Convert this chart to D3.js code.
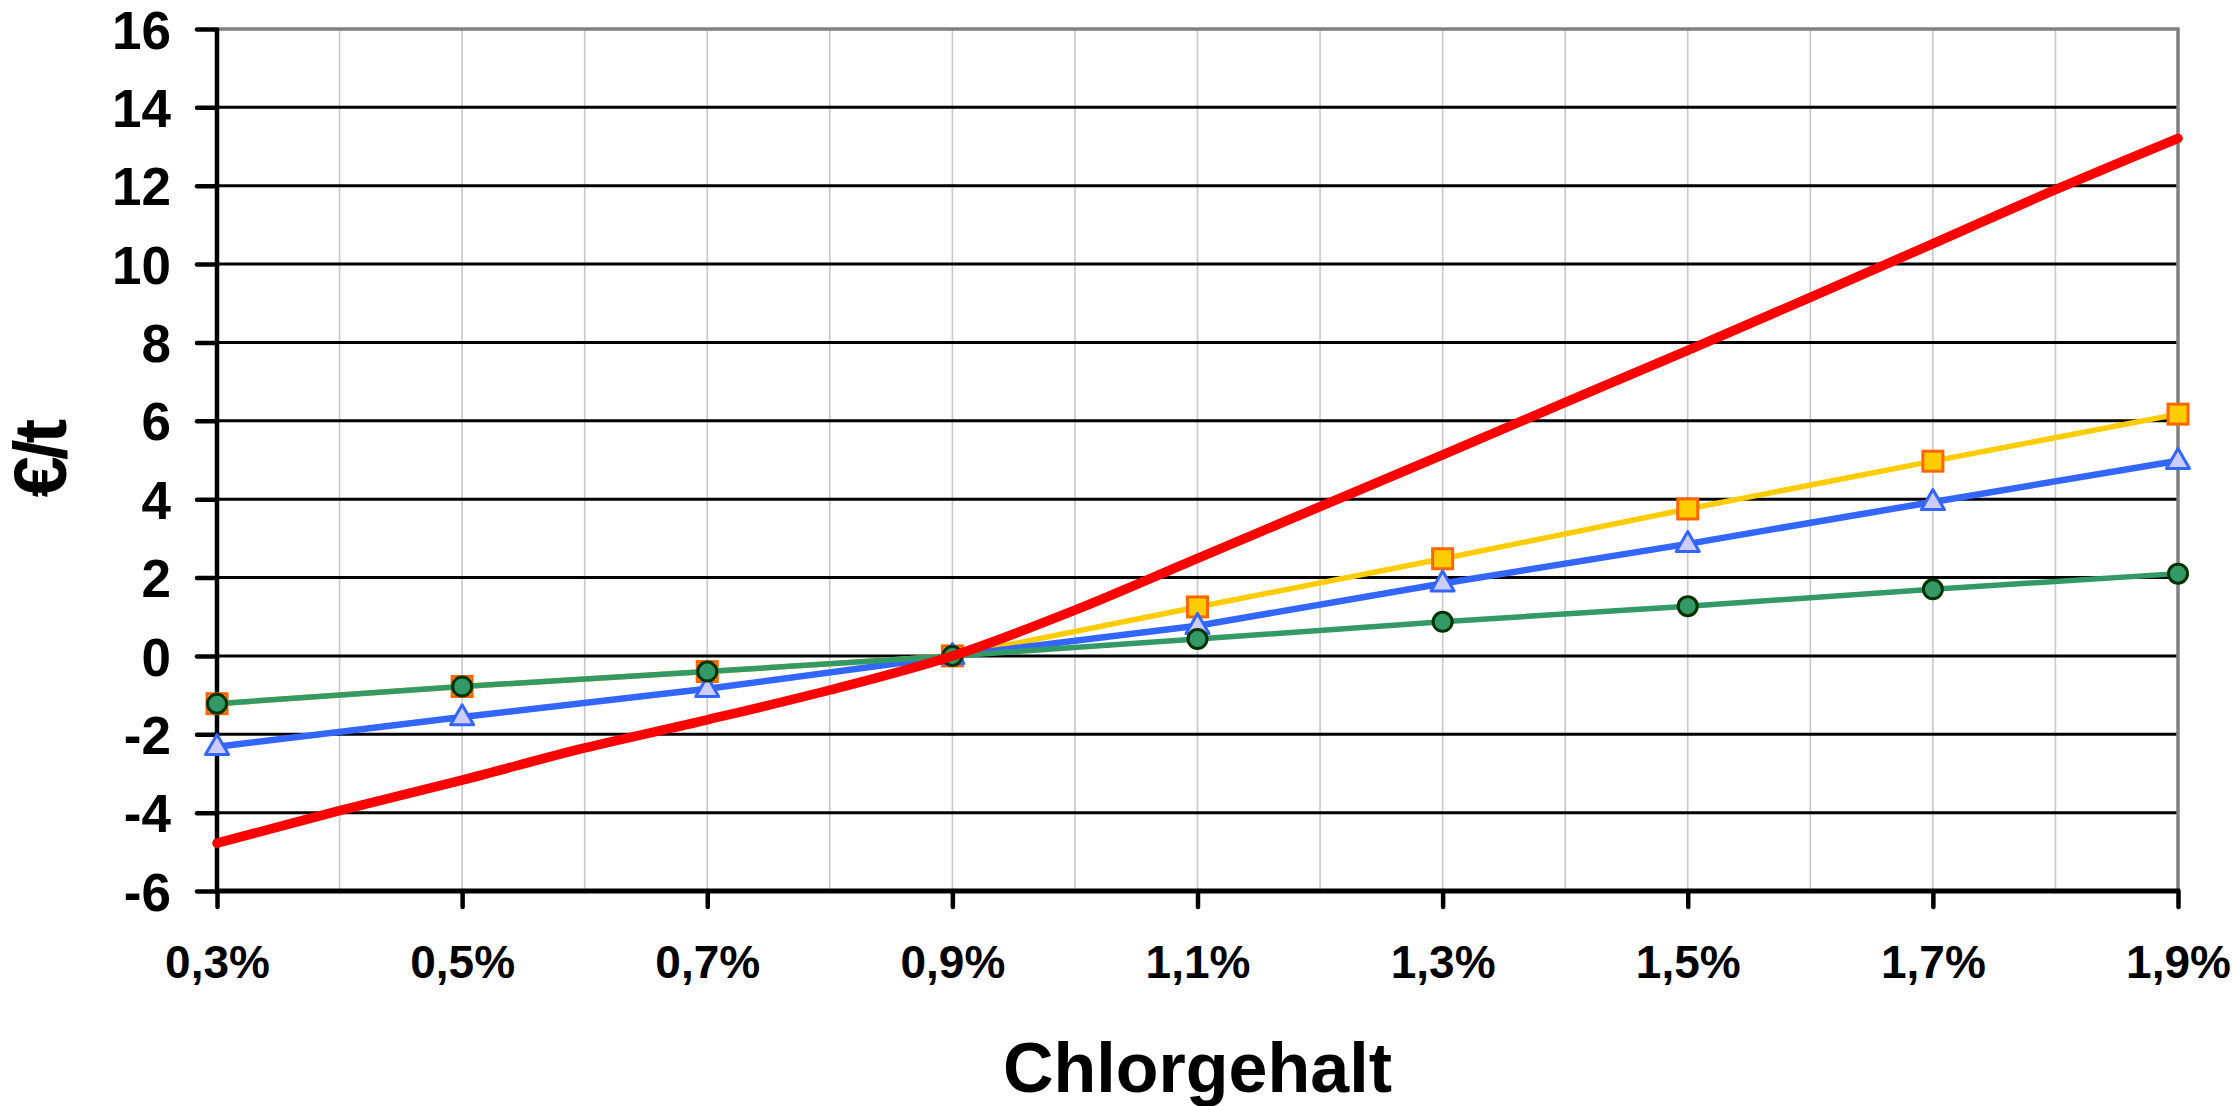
<!DOCTYPE html>
<html>
<head>
<meta charset="utf-8">
<script src="https://cdn.jsdelivr.net/npm/d3@7"></script>
<style>
  html, body { margin: 0; padding: 0; background: #fff; }
  svg { display: block; }
  text { font-family: "Liberation Sans", Arial, sans-serif; font-weight: bold; fill: #000; }
</style>
</head>
<body>
<svg id="chart" width="2239" height="1106"></svg>
<script>
// Chlorgehalt (%) at the marked points
const chlorgehalt = [0.3, 0.5, 0.7, 0.9, 1.1, 1.3, 1.5, 1.7, 1.9];
// Fine steps used by the red curve
const chlorgehaltFein = [0.3, 0.4, 0.5, 0.6, 0.7, 0.8, 0.9, 1.0, 1.1, 1.2, 1.3, 1.4, 1.5, 1.6, 1.7, 1.8, 1.9];

// €/t values per series
const werteQuadrat = [-1.22, -0.78, -0.40, 0, 1.25, 2.48, 3.75, 4.97, 6.17];
const werteDreieck = [-2.32, -1.56, -0.84, 0, 0.77, 1.85, 2.86, 3.93, 4.98];
const werteKreis   = [-1.22, -0.78, -0.40, 0, 0.43, 0.87, 1.27, 1.70, 2.10];
const werteRot     = [-4.78, -3.95, -3.17, -2.35, -1.63, -0.87, 0, 1.17, 2.49, 3.81, 5.13, 6.47, 7.80, 9.15, 10.52, 11.90, 13.21];

// Axis ticks
const yTicks = [-6, -4, -2, 0, 2, 4, 6, 8, 10, 12, 14, 16];
const xTicks = [0.3, 0.5, 0.7, 0.9, 1.1, 1.3, 1.5, 1.7, 1.9];
const xGrid  = [0.4, 0.5, 0.6, 0.7, 0.8, 0.9, 1.0, 1.1, 1.2, 1.3, 1.4, 1.5, 1.6, 1.7, 1.8];

const xTitle = "Chlorgehalt";
const yTitle = "€/t";

const plotLeft = 217, plotRight = 2178, plotTop = 29, plotBottom = 891;

const svg = d3.select("#chart");
const x = d3.scaleLinear().domain([0.3, 1.9]).range([plotLeft, plotRight]);
const y = d3.scaleLinear().domain([-6, 16]).range([plotBottom, plotTop]);

const fmtPct = v => v.toFixed(1).replace(".", ",") + "%";
const fmtInt = v => String(v);   // plain hyphen for negatives

// vertical light grid
svg.append("g").selectAll("line").data(xGrid).join("line")
  .attr("x1", d => x(d)).attr("x2", d => x(d))
  .attr("y1", plotTop).attr("y2", plotBottom)
  .attr("stroke", "#c8c8c8").attr("stroke-width", 1.6);

// horizontal grid
svg.append("g").selectAll("line").data(yTicks.filter(d => d > -6 && d < 16)).join("line")
  .attr("x1", plotLeft).attr("x2", plotRight)
  .attr("y1", d => y(d)).attr("y2", d => y(d))
  .attr("stroke", "#000").attr("stroke-width", 3);

// plot frame (top and right)
svg.append("path")
  .attr("d", `M${plotLeft},${y(16)}H${plotRight}V${plotBottom}`)
  .attr("fill", "none").attr("stroke", "#808080").attr("stroke-width", 3.5);

// y axis
const yAxis = svg.append("g")
  .attr("transform", `translate(${plotLeft},0)`)
  .call(d3.axisLeft(y).tickValues(yTicks).tickSize(20).tickPadding(26).tickFormat(fmtInt));
yAxis.select(".domain").remove();
yAxis.selectAll(".tick line").attr("stroke", "#000").attr("stroke-width", 4.5).attr("stroke-linecap", "round");
yAxis.selectAll(".tick text").attr("font-size", 53).attr("font-family", null).attr("dy", "0.36em");
svg.append("line").attr("x1", plotLeft).attr("x2", plotLeft).attr("y1", plotTop).attr("y2", plotBottom)
  .attr("stroke", "#000").attr("stroke-width", 4.5);

// x axis
const xAxis = svg.append("g")
  .attr("transform", `translate(0,${plotBottom})`)
  .call(d3.axisBottom(x).tickValues(xTicks).tickSize(16).tickFormat(fmtPct));
xAxis.select(".domain").remove();
xAxis.selectAll(".tick line").attr("stroke", "#000").attr("stroke-width", 4.5).attr("stroke-linecap", "round");
xAxis.selectAll(".tick text").attr("font-size", 46).attr("font-family", null).attr("y", 87).attr("dy", 0);
svg.append("line").attr("x1", plotLeft - 2).attr("x2", plotRight + 2).attr("y1", plotBottom).attr("y2", plotBottom)
  .attr("stroke", "#000").attr("stroke-width", 5);

// axis titles
svg.append("text").attr("x", (plotLeft + plotRight) / 2).attr("y", 1092)
  .attr("text-anchor", "middle").attr("font-size", 70).text(xTitle);
svg.append("text")
  .attr("transform", `translate(66,${(plotTop + plotBottom) / 2}) rotate(-90)`)
  .attr("text-anchor", "middle").attr("font-size", 74).attr("letter-spacing", -4).text(yTitle);

const lineGen = d3.line().x(d => x(d[0])).y(d => y(d[1]));
const zip = (xs, ys) => xs.map((v, i) => [v, ys[i]]);

// series: square (yellow/orange)
const dQ = zip(chlorgehalt, werteQuadrat);
svg.append("path").datum(dQ).attr("d", lineGen)
  .attr("fill", "none").attr("stroke", "#FFCC00").attr("stroke-width", 5.5).attr("stroke-linejoin", "round");
svg.append("g").selectAll("rect").data(dQ).join("rect")
  .attr("x", d => x(d[0]) - 10).attr("y", d => y(d[1]) - 10)
  .attr("width", 20).attr("height", 20)
  .attr("fill", "#FFCC00").attr("stroke", "#FF6600").attr("stroke-width", 3);

// series: triangle (blue)
const dD = zip(chlorgehalt, werteDreieck);
svg.append("path").datum(dD).attr("d", lineGen)
  .attr("fill", "none").attr("stroke", "#3366FF").attr("stroke-width", 6.5).attr("stroke-linejoin", "round");
const tri = d3.symbol().type(d3.symbolTriangle).size(230);
svg.append("g").selectAll("path").data(dD).join("path")
  .attr("transform", d => `translate(${x(d[0])},${y(d[1]) + 1})`)
  .attr("d", tri)
  .attr("fill", "#CCCCFF").attr("stroke", "#3366FF").attr("stroke-width", 3).attr("stroke-linejoin", "round");

// series: circle (green)
const dK = zip(chlorgehalt, werteKreis);
svg.append("path").datum(dK).attr("d", lineGen)
  .attr("fill", "none").attr("stroke", "#339966").attr("stroke-width", 5.5).attr("stroke-linejoin", "round");
svg.append("g").selectAll("circle").data(dK).join("circle")
  .attr("cx", d => x(d[0])).attr("cy", d => y(d[1])).attr("r", 9.5)
  .attr("fill", "#339966").attr("stroke", "#003300").attr("stroke-width", 3);

// series: red curve
const dR = zip(chlorgehaltFein, werteRot);
svg.append("path").datum(dR).attr("d", lineGen.curve(d3.curveCatmullRom))
  .attr("fill", "none").attr("stroke", "#FF0000").attr("stroke-width", 9.5)
  .attr("stroke-linecap", "round").attr("stroke-linejoin", "round");
</script>
</body>
</html>
